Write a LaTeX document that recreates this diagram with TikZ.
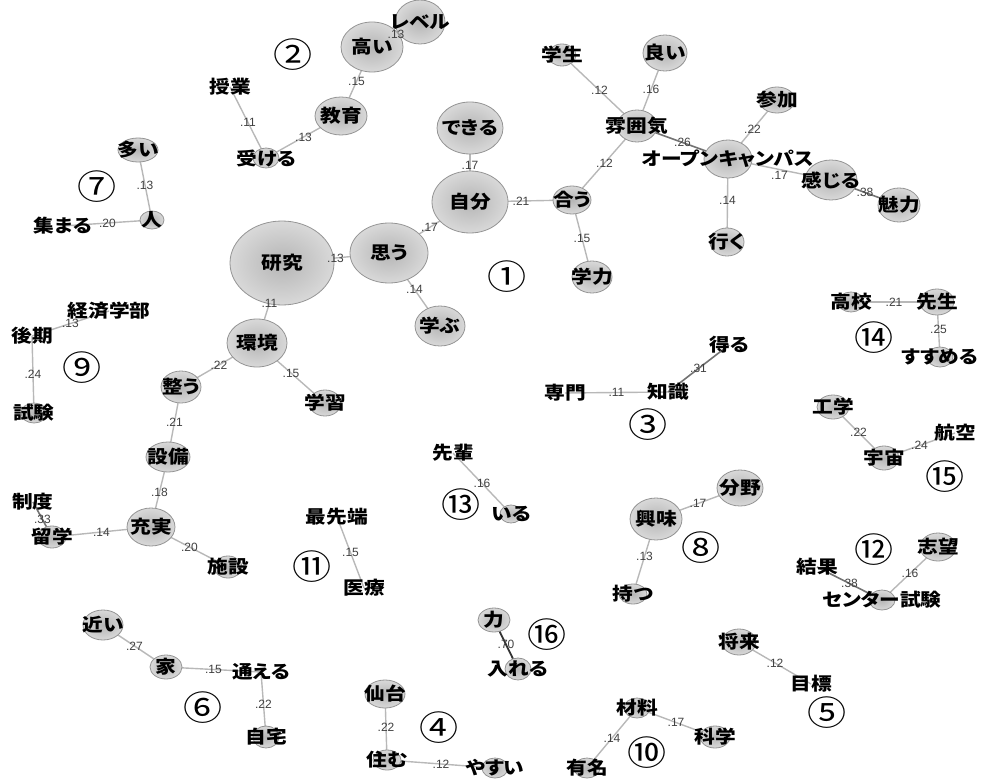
\documentclass[tikz,border=0pt]{standalone}
\usepackage{fontspec}
\newfontfamily\jp{Noto Sans CJK JP}[FakeStretch=1.15, RawFeature=+palt]
\newfontfamily\coeffamily{Liberation Sans}
\usetikzlibrary{shapes.geometric}
\pgfdeclarelayer{edges}
\pgfsetlayers{edges,main}
\newcommand\wordfont{\jp\bfseries\fontsize{18}{18}\selectfont}
\newcommand\grpfont{\jp\fontsize{34}{34}\selectfont}
% edge: line behind the bubbles, coefficient on top
\newcommand\edge[4][link]{%
  \begin{pgfonlayer}{edges}\draw[#1] (#2.center) -- (#3.center);\end{pgfonlayer}
  \path (#2.center) -- node[coef] {#4} (#3.center);}

\begin{document}
\begin{tikzpicture}[x=1pt, y=-1pt,
  word/.style={font=\wordfont, inner sep=0pt},
  bub/.style n args={3}{ellipse, draw=black!42, line width=0.8pt,
    inner color=black!29, outer color=black!15, inner sep=0pt,
    minimum width=#1pt, minimum height=#2pt, label={[word]center:#3}},
  link/.style={draw=black!28, line width=1.4pt},
  strong/.style={draw=black!55, line width=1.6pt},
  coef/.style={font=\coeffamily\fontsize{12}{12}\selectfont, text=black!75, inner sep=1pt},
  grp/.style={font=\grpfont, inner sep=0pt}]

\useasboundingbox (0,0) rectangle (981,778);

% group 1: research / open campus
\node[bub={104}{84}{研究}] (kenkyu) at (282,263) {};
\node[bub={78}{60}{思う}] (omou) at (389,253) {};
\node[bub={76}{62}{自分}] (jibun) at (470,202) {};
\node[bub={66}{52}{できる}] (dekiru) at (470,128) {};
\node[bub={38}{28}{合う}] (au) at (572,200) {};
\node[bub={40}{32}{学力}] (gakuryoku) at (592,277) {};
\node[bub={50}{40}{学ぶ}] (manabu) at (440,326) {};
\node[bub={60}{48}{環境}] (kankyo) at (257,343) {};
\node[bub={32}{26}{学習}] (gakushu) at (325,403) {};
\node[bub={40}{32}{整う}] (totonou) at (181,387) {};
\node[bub={44}{30}{設備}] (setsubi) at (168,457) {};
\node[bub={48}{38}{充実}] (jujitsu) at (151,527) {};
\node[bub={28}{22}{留学}] (ryugaku) at (52,537) {};
\node[word] (seido) at (33,502) {制度};
\node[bub={28}{22}{施設}] (shisetsu) at (228,567) {};
\node[bub={40}{32}{雰囲気}] (funiki) at (637,126) {};
\node[bub={44}{36}{良い}] (yoi) at (665,53) {};
\node[bub={28}{22}{学生}] (gakusei) at (562,55) {};
\node[bub={48}{38}{オープンキャンパス}] (oc) at (728,159) {};
\node[bub={36}{26}{参加}] (sanka) at (777,100) {};
\node[bub={52}{40}{感じる}] (kanjiru) at (831,180) {};
\node[bub={42}{34}{魅力}] (miryoku) at (899,205) {};
\node[bub={34}{28}{行く}] (iku) at (727,242) {};
\node[grp] (g1) at (507,277) {①};

% group 2
\node[bub={62}{50}{高い}] (takai) at (372,47) {};
\node[bub={50}{44}{レベル}] (level) at (420,22) {};
\node[bub={52}{38}{教育}] (kyoiku) at (341,116) {};
\node[bub={26}{20}{受ける}] (ukeru) at (266,158) {};
\node[word] (jugyo) at (230,87) {授業};
\node[grp] (g2) at (293,55) {②};

% group 3
\node[word] (senmon) at (565,393) {専門};
\node[word] (chishiki) at (668,392) {知識};
\node[word] (eru) at (729,345) {得る};
\node[grp] (g3) at (648,425) {③};

% group 4
\node[bub={40}{28}{仙台}] (sendai) at (385,694) {};
\node[bub={28}{20}{住む}] (sumu) at (387,760) {};
\node[bub={26}{20}{やすい}] (yasui) at (495,768) {};
\node[grp] (g4) at (439,728) {④};

% group 5
\node[bub={34}{26}{将来}] (shorai) at (739,642) {};
\node[word] (mokuhyo) at (811,684) {目標};
\node[grp] (g5) at (827,713) {⑤};

% group 6
\node[bub={40}{30}{近い}] (chikai) at (103,625) {};
\node[bub={32}{24}{家}] (ie) at (166,667) {};
\node[word] (kayoeru) at (261,672) {通える};
\node[bub={26}{22}{自宅}] (jitaku) at (266,737) {};
\node[grp] (g6) at (203,708) {⑥};

% group 7
\node[bub={40}{24}{多い}] (oi) at (138,150) {};
\node[bub={24}{18}{人}] (hito) at (152,220) {};
\node[word] (atsumaru) at (63,226) {集まる};
\node[grp] (g7) at (97,187) {⑦};

% group 8
\node[bub={52}{42}{興味}] (kyomi) at (656,519) {};
\node[bub={46}{36}{分野}] (bunya) at (740,488) {};
\node[bub={28}{20}{持つ}] (motsu) at (633,594) {};
\node[grp] (g8) at (701,548) {⑧};

% group 9
\node[word] (keizai) at (109,311) {経済学部};
\node[word] (koki) at (32,336) {後期};
\node[bub={26}{20}{試験}] (shiken) at (34,413) {};
\node[grp] (g9) at (82,368) {⑨};

% group 10
\node[bub={26}{20}{材料}] (zairyo) at (637,708) {};
\node[bub={30}{22}{科学}] (kagaku) at (715,737) {};
\node[bub={26}{20}{有名}] (yumei) at (587,768) {};
\node[grp] (g10) at (647,753) {⑩};

% group 11
\node[word] (saisentan) at (337,517) {最先端};
\node[word] (iryo) at (364,588) {医療};
\node[grp] (g11) at (312,567) {⑪};

% group 12
\node[word] (kekka) at (817,567) {結果};
\node[bub={26}{20}{センター試験}] (centa) at (882,600) {};
\node[bub={36}{28}{志望}] (shibo) at (938,547) {};
\node[grp] (g12) at (874,550) {⑫};

% group 13
\node[word] (senpai) at (453,453) {先輩};
\node[bub={22}{18}{いる}] (iru) at (511,514) {};
\node[grp] (g13) at (461,505) {⑬};

% group 14
\node[bub={26}{20}{高校}] (koko) at (851,302) {};
\node[bub={34}{26}{先生}] (sensei) at (937,302) {};
\node[bub={26}{20}{すすめる}] (susumeru) at (940,357) {};
\node[grp] (g14) at (874,338) {⑭};

% group 15
\node[bub={32}{24}{工学}] (kogaku) at (833,407) {};
\node[bub={30}{24}{宇宙}] (uchu) at (884,458) {};
\node[word] (koku) at (955,433) {航空};
\node[grp] (g15) at (945,477) {⑮};

% group 16
\node[bub={32}{24}{力}] (chikara) at (494,620) {};
\node[bub={26}{22}{入れる}] (ireru) at (518,669) {};
\node[grp] (g16) at (547,635) {⑯};

% co-occurrence edges
\edge{kenkyu}{omou}{.13}
\edge{omou}{jibun}{.17}
\edge{jibun}{dekiru}{.17}
\edge{jibun}{au}{.21}
\edge{au}{funiki}{.12}
\edge{au}{gakuryoku}{.15}
\edge{omou}{manabu}{.14}
\edge{kenkyu}{kankyo}{.11}
\edge{kankyo}{totonou}{.22}
\edge{kankyo}{gakushu}{.15}
\edge{totonou}{setsubi}{.21}
\edge{setsubi}{jujitsu}{.18}
\edge{jujitsu}{ryugaku}{.14}
\edge[strong]{ryugaku}{seido}{.33}
\edge{jujitsu}{shisetsu}{.20}
\edge{funiki}{gakusei}{.12}
\edge{funiki}{yoi}{.16}
\edge[strong]{funiki}{oc}{.26}
\edge{oc}{sanka}{.22}
\begin{pgfonlayer}{edges}\draw[link] (oc.center) -- (kanjiru.center);\end{pgfonlayer}
\path (oc.center) -- node[coef, yshift=-6pt] {.17} (kanjiru.center);
\edge[strong]{kanjiru}{miryoku}{.38}
\edge{oc}{iku}{.14}

\edge{takai}{level}{.13}
\edge{takai}{kyoiku}{.15}
\edge{kyoiku}{ukeru}{.13}
\edge{jugyo}{ukeru}{.11}

\edge{senmon}{chishiki}{.11}
\edge[strong]{chishiki}{eru}{.31}

\edge{sendai}{sumu}{.22}
\edge{sumu}{yasui}{.12}

\edge{shorai}{mokuhyo}{.12}

\edge{chikai}{ie}{.27}
\edge{ie}{kayoeru}{.15}
\edge{kayoeru}{jitaku}{.22}

\edge{oi}{hito}{.13}
\edge{atsumaru}{hito}{.20}

\edge{kyomi}{bunya}{.17}
\edge{kyomi}{motsu}{.13}

\edge{keizai}{koki}{.13}
\edge{koki}{shiken}{.24}

\edge{zairyo}{kagaku}{.17}
\edge{zairyo}{yumei}{.14}

\edge{saisentan}{iryo}{.15}

\edge[strong]{kekka}{centa}{.38}
\edge{centa}{shibo}{.16}

\edge{senpai}{iru}{.16}

\edge{koko}{sensei}{.21}
\edge{sensei}{susumeru}{.25}

\edge{kogaku}{uchu}{.22}
\edge{uchu}{koku}{.24}

\edge[draw=black!80, line width=1.8pt]{chikara}{ireru}{.70}

\end{tikzpicture}
\end{document}
